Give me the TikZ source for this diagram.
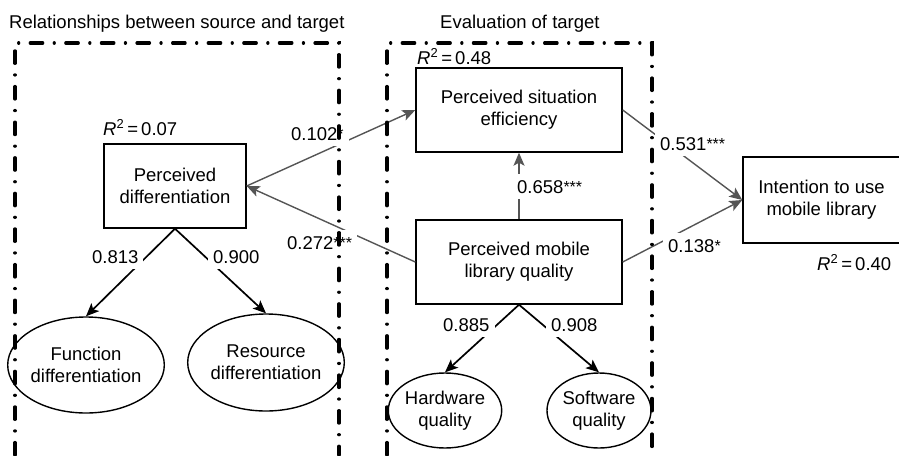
\documentclass[tikz,border=0pt]{standalone}
\usepackage{fontspec}
\setmainfont{Liberation Sans}
\usetikzlibrary{arrows.meta,shapes.geometric}
\definecolor{arrgray}{RGB}{85,85,85}
\newcommand{\stars}[1]{\raisebox{1pt}{\fontsize{16}{16}\selectfont #1}}
\begin{document}
\begin{tikzpicture}[x=1pt,y=-1pt,
  every node/.style={font=\fontsize{18.5}{22}\selectfont},
  boxnode/.style={draw,line width=1.4pt,align=center,inner sep=0pt},
  ellnode/.style={draw,ellipse,line width=1.4pt,align=center,inner sep=0pt},
  plain/.style={inner sep=0pt,anchor=base west},
  lbl/.style={fill=white,inner xsep=5pt,inner ysep=6pt,anchor=base west},
  garrow/.style={draw=arrgray,line width=1.4pt,-{Stealth[length=13pt,width=11pt,inset=3pt]}},
  barrow/.style={draw=black,line width=1.7pt,-{Stealth[length=13pt,width=11pt,inset=3pt]}},
  frame/.style={line width=3.2pt,line cap=round,dash pattern=on 12.5pt off 11.5pt on 0.1pt off 11.5pt}]
\useasboundingbox (0,0) rectangle (899,455);

% titles
\node[plain] (t1) at (9,28) {Relationships between source and target};
\node[plain] (t2) at (440,28) {Evaluation of target};

% boxes
\node[boxnode,minimum width=142pt,minimum height=84pt] (pd) at (175,186) {Perceived\\differentiation};
\node[boxnode,minimum width=206pt,minimum height=84pt] (pse) at (519,110) {Perceived situation\\efficiency};
\node[boxnode,minimum width=206pt,minimum height=84pt] (pmlq) at (519,262) {Perceived mobile\\library quality};
\node[boxnode,minimum width=157pt,minimum height=86pt] (iu) at (821.5,200) {Intention to use\\mobile library};

% ellipses
\node[ellnode,minimum width=138pt,minimum height=96pt] (fd) at (86,365) {Function\\differentiation};
\node[ellnode,minimum width=133pt,minimum height=97pt] (rd) at (266,362.5) {Resource\\differentiation};
\node[ellnode,minimum width=104pt,minimum height=75pt] (hq) at (445,410.5) {Hardware\\quality};
\node[ellnode,minimum width=104pt,minimum height=75pt] (sq) at (599,410.5) {Software\\quality};

% R^2 labels
\node[plain] (r1) at (103,135) {\textit{R}\textsuperscript{2}\,=\,0.07};
\node[plain] (r2) at (417,64) {\textit{R}\textsuperscript{2}\,=\,0.48};
\node[plain] (r3) at (817,270) {\textit{R}\textsuperscript{2}\,=\,0.40};

% connectors
\draw[barrow] (pd.south) -- (fd.north);
\draw[barrow] (pd.south) -- (rd.north);
\draw[barrow] (pmlq.south) -- (hq.north);
\draw[barrow] (pmlq.south) -- (sq.north);
\draw[garrow] (pd.east) -- (pse.west);
\draw[garrow] (pmlq.west) -- (pd.east);
\draw[garrow] (pmlq.north) -- (pse.south);
\draw[garrow] (pse.east) -- (iu.west);
\draw[garrow] (pmlq.east) -- (iu.west);

% path coefficients
\node[lbl] (l1) at (286,140) {0.102\stars{*}\hspace{6pt}};
\node[lbl] (l2) at (282,249) {0.272\stars{***}};
\node[lbl] (l3) at (512,193) {0.658\stars{***}};
\node[lbl] (l4) at (655,150) {0.531\stars{***}};
\node[lbl] (l5) at (663,252) {0.138\stars{*}};
\node[lbl] (l6) at (87,263) {0.813\hspace{6pt}};
\node[lbl] (l7) at (208,263) {0.900};
\node[lbl] (l8) at (438,331) {0.885};
\node[lbl] (l9) at (546,331) {0.908};

% frames
\coordinate (f1a) at (15,455);
\coordinate (f1b) at (15,43);
\coordinate (f1c) at (339,43);
\coordinate (f1d) at (339,455);
\coordinate (f2a) at (387,455);
\coordinate (f2b) at (387,43);
\coordinate (f2c) at (652,43);
\coordinate (f2d) at (652,455);
\draw[frame] (f1a) -- (f1b) -- (f1c) -- (f1d);
\draw[frame] (f2a) -- (f2b) -- (f2c) -- (f2d);
\end{tikzpicture}
\end{document}
